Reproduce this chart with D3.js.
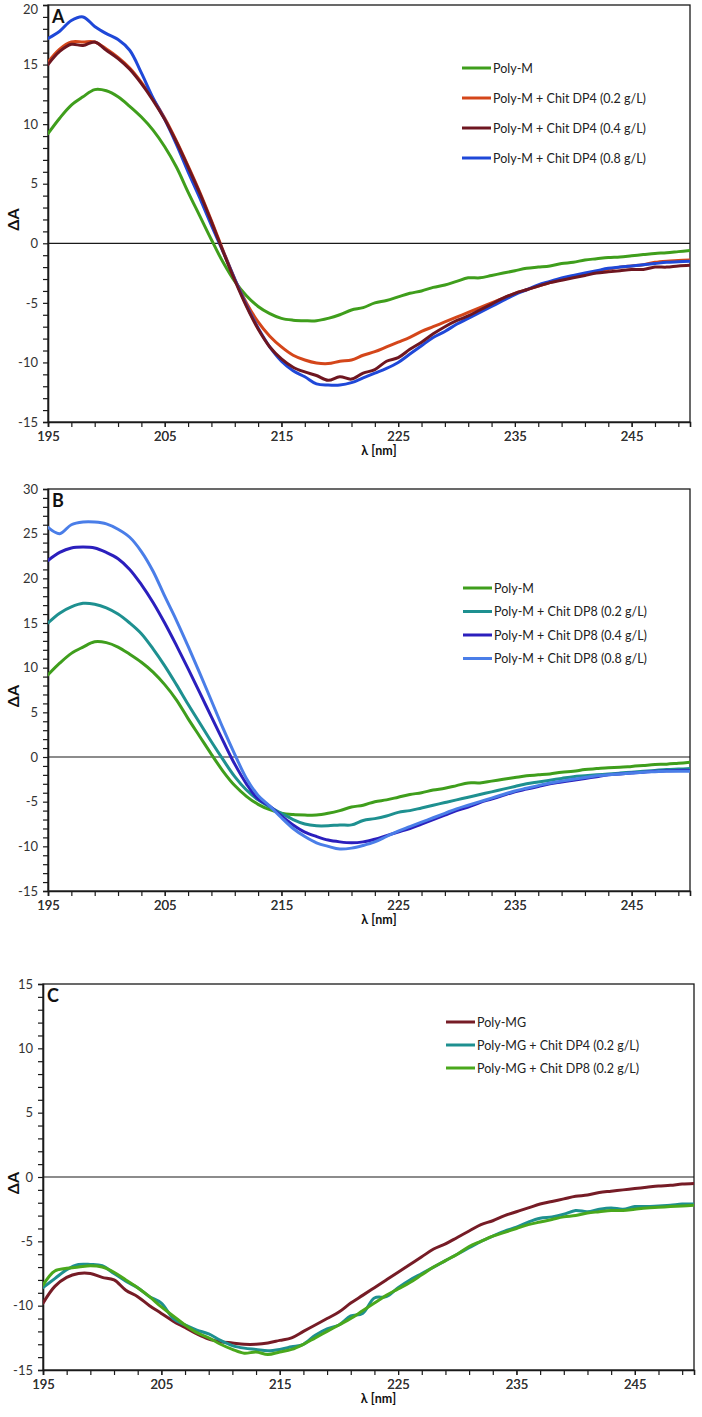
<!DOCTYPE html>
<html>
<head>
<meta charset="utf-8">
<script src="https://cdn.jsdelivr.net/npm/d3@7"></script>
<style>
  html, body { margin: 0; padding: 0; background: #fff; }
  svg { display: block; }
  text { font-family: Lato, "Open Sans", "Liberation Sans", sans-serif; }
</style>
</head>
<body>
<svg id="chart" width="702" height="1417"></svg>
<script>
// ---------- DATA ----------
const wavelengths = [195,196,197,198,199,200,201,202,203,204,205,206,207,208,209,210,211,212,213,214,215,216,217,218,219,220,221,222,223,224,225,226,227,228,229,230,231,232,233,234,235,236,237,238,239,240,241,242,243,244,245,246,247,248,249,250];

const xTickLabels = [195, 205, 215, 225, 235, 245];

// Panel A
const polyM = [9.2,10.5,11.6,12.3,12.9,12.8,12.3,11.5,10.6,9.5, 8.1,6.4,4.3,2.3,0.3,-1.6,-3.2,-4.4,-5.3,-5.9, -6.3,-6.45,-6.5,-6.5,-6.3,-6.0,-5.6,-5.4,-5.0,-4.8, -4.5,-4.2,-4.0,-3.7,-3.5,-3.2,-2.9,-2.9,-2.7,-2.5, -2.3,-2.1,-2.0,-1.9,-1.7,-1.6,-1.4,-1.3,-1.2,-1.15, -1.05,-0.95,-0.85,-0.8,-0.7,-0.6];
const polyM_DP4_02 = [15.2,16.3,16.9,16.9,16.9,16.3,15.6,14.7,13.5,12.1, 10.5,8.6,6.5,4.3,1.9,-0.6,-3.0,-5.0,-6.6,-7.8, -8.7,-9.4,-9.8,-10.05,-10.1,-9.9,-9.8,-9.4,-9.1,-8.7, -8.3,-7.9,-7.4,-7.0,-6.6,-6.2,-5.8,-5.4,-5.0,-4.6, -4.2,-3.9,-3.6,-3.3,-3.0,-2.8,-2.6,-2.4,-2.2,-2.0, -1.9,-1.8,-1.6,-1.5,-1.45,-1.4];
const polyM_DP4_04 = [15.0,16.1,16.7,16.6,16.9,16.2,15.5,14.6,13.4,12.0, 10.4,8.5,6.4,4.2,1.8,-0.7,-3.1,-5.3,-7.2,-8.7, -9.7,-10.4,-10.8,-11.1,-11.5,-11.2,-11.4,-10.9,-10.6,-9.9, -9.6,-8.9,-8.3,-7.6,-7.0,-6.5,-6.1,-5.6,-5.1,-4.6, -4.2,-3.9,-3.6,-3.3,-3.1,-2.9,-2.7,-2.5,-2.4,-2.3, -2.2,-2.2,-2.0,-2.0,-1.9,-1.85];
const polyM_DP4_08 = [17.2,17.8,18.7,19.0,18.2,17.6,17.1,16.2,14.3,12.2, 10.4,8.3,6.0,3.8,1.5,-0.7,-3.0,-5.2,-7.1,-8.7, -9.9,-10.7,-11.2,-11.8,-11.9,-11.9,-11.7,-11.3,-10.9,-10.5, -10.0,-9.3,-8.6,-7.9,-7.4,-6.8,-6.3,-5.8,-5.3,-4.8, -4.3,-3.9,-3.5,-3.2,-2.9,-2.7,-2.5,-2.3,-2.1,-2.0, -1.9,-1.8,-1.7,-1.6,-1.55,-1.5];

// Panel B
const polyM_DP8_02 = [15.0,16.1,16.8,17.2,17.1,16.7,16.0,15.0,13.8,12.1, 10.2,8.1,5.9,3.8,1.7,-0.3,-2.2,-3.7,-4.8,-5.6, -6.3,-7.0,-7.5,-7.7,-7.7,-7.6,-7.6,-7.1,-6.9,-6.6, -6.2,-6.0,-5.7,-5.4,-5.1,-4.8,-4.5,-4.2,-3.9,-3.6, -3.3,-3.0,-2.8,-2.6,-2.4,-2.2,-2.1,-2.0,-1.9,-1.8, -1.7,-1.6,-1.5,-1.4,-1.35,-1.3];
const polyM_DP8_04 = [22.0,22.9,23.4,23.5,23.4,22.9,22.2,21.0,19.3,17.3, 15.0,12.5,9.9,7.2,4.5,1.8,-0.8,-3.0,-4.7,-5.5, -6.6,-7.6,-8.4,-8.9,-9.3,-9.5,-9.6,-9.5,-9.2,-8.8, -8.4,-8.0,-7.5,-7.0,-6.5,-6.0,-5.6,-5.1,-4.7,-4.3, -3.9,-3.6,-3.3,-3.0,-2.8,-2.6,-2.4,-2.2,-2.0,-1.9, -1.8,-1.7,-1.6,-1.55,-1.5,-1.5];
const polyM_DP8_08 = [25.7,25.0,26.0,26.3,26.3,26.1,25.5,24.6,23.0,20.8, 18.0,15.3,12.4,9.4,6.3,3.2,0.3,-2.4,-4.3,-5.5, -6.8,-8.0,-8.9,-9.6,-10.0,-10.3,-10.2,-9.9,-9.5,-8.9, -8.3,-7.8,-7.3,-6.8,-6.3,-5.8,-5.4,-5.0,-4.6,-4.2, -3.8,-3.5,-3.2,-2.9,-2.7,-2.5,-2.3,-2.1,-2.0,-1.9, -1.8,-1.7,-1.65,-1.6,-1.6,-1.6];

// Panel C
const polyMG = [-9.8,-8.5,-7.8,-7.5,-7.5,-7.8,-8.0,-8.8,-9.3,-10.0, -10.6,-11.2,-11.7,-12.2,-12.6,-12.8,-12.9,-13.0,-13.0,-12.9, -12.7,-12.5,-12.0,-11.5,-11.0,-10.5,-9.8,-9.2,-8.6,-8.0, -7.4,-6.8,-6.2,-5.6,-5.2,-4.7,-4.2,-3.7,-3.4,-3.0, -2.7,-2.4,-2.1,-1.9,-1.7,-1.5,-1.4,-1.2,-1.1,-1.0, -0.9,-0.8,-0.7,-0.65,-0.55,-0.5];
const polyMG_DP4_02 = [-8.6,-7.9,-7.2,-6.8,-6.8,-6.9,-7.5,-8.1,-8.6,-9.3, -9.8,-11.0,-11.5,-11.9,-12.2,-12.7,-13.1,-13.3,-13.4,-13.5, -13.4,-13.2,-13.0,-12.3,-11.8,-11.5,-10.8,-10.6,-9.4,-9.3, -8.6,-8.0,-7.5,-7.0,-6.5,-6.0,-5.5,-5.0,-4.6,-4.2, -3.9,-3.5,-3.2,-3.1,-2.9,-2.6,-2.7,-2.5,-2.4,-2.5, -2.3,-2.3,-2.25,-2.2,-2.1,-2.1];
const polyMG_DP8_02 = [-8.4,-7.3,-7.1,-7.0,-6.9,-7.0,-7.4,-8.0,-8.6,-9.3, -10.1,-10.8,-11.5,-12.1,-12.5,-13.0,-13.4,-13.7,-13.6,-13.8, -13.6,-13.4,-13.0,-12.5,-12.0,-11.5,-11.0,-10.4,-9.8,-9.2, -8.7,-8.2,-7.6,-7.0,-6.5,-6.0,-5.4,-5.0,-4.6,-4.3, -4.0,-3.7,-3.5,-3.3,-3.1,-3.0,-2.8,-2.7,-2.6,-2.6, -2.5,-2.4,-2.35,-2.3,-2.25,-2.2];

const yTicksA = [-15,-10,-5,0,5,10,15,20];
const yTicksB = [-15,-10,-5,0,5,10,15,20,25,30];
const yTicksC = [-15,-10,-5,0,5,10,15];

// ---------- LAYOUT ----------
const panels = [
  { letter: "A", x0: 48, x1: 690, yTop: 5, yBot: 422, yTicks: yTicksA,
    legend: { x: 462, y: 68, dy: 30 },
    series: [
      { name: "Poly-M", values: polyM, color: "#3f9e1c" },
      { name: "Poly-M + Chit DP4 (0.2 g/L)", values: polyM_DP4_02, color: "#d4461a" },
      { name: "Poly-M + Chit DP4 (0.4 g/L)", values: polyM_DP4_04, color: "#6e1620" },
      { name: "Poly-M + Chit DP4 (0.8 g/L)", values: polyM_DP4_08, color: "#1f48d8" }
    ] },
  { letter: "B", x0: 48, x1: 690, yTop: 489, yBot: 891, yTicks: yTicksB,
    legend: { x: 463, y: 588, dy: 23.5 },
    series: [
      { name: "Poly-M", values: polyM, color: "#3f9e1c" },
      { name: "Poly-M + Chit DP8 (0.2 g/L)", values: polyM_DP8_02, color: "#1e9090" },
      { name: "Poly-M + Chit DP8 (0.4 g/L)", values: polyM_DP8_04, color: "#2b1fbd" },
      { name: "Poly-M + Chit DP8 (0.8 g/L)", values: polyM_DP8_08, color: "#4a7ee8" }
    ] },
  { letter: "C", x0: 43, x1: 694, yTop: 984, yBot: 1370, yTicks: yTicksC,
    legend: { x: 446, y: 1022, dy: 23 },
    series: [
      { name: "Poly-MG", values: polyMG, color: "#761c26" },
      { name: "Poly-MG + Chit DP4 (0.2 g/L)", values: polyMG_DP4_02, color: "#1e9090" },
      { name: "Poly-MG + Chit DP8 (0.2 g/L)", values: polyMG_DP8_02, color: "#4aa81c" }
    ] }
];

const svg = d3.select("#chart");
const axisColor = "#1a1a1a";
const labelColor = "#333";

panels.forEach(p => {
  const yd = p.yTicks;
  const yMax = yd[yd.length - 1];
  const x = d3.scaleLinear().domain([195, 250]).range([p.x0, p.x1]);
  const y = d3.scaleLinear().domain([yd[0], yMax]).range([p.yBot, p.yTop]);
  const g = svg.append("g");

  // Frame
  g.append("rect")
    .attr("x", p.x0).attr("y", p.yTop)
    .attr("width", p.x1 - p.x0).attr("height", p.yBot - p.yTop)
    .attr("fill", "none").attr("stroke", axisColor).attr("stroke-width", 1.3);

  // y axis: major + minor ticks
  const yAxis = d3.axisLeft(y).tickValues(d3.range(yd[0], yMax + 0.001, 1))
    .tickSize(5).tickFormat(d => (yd.includes(d) ? d : ""));
  const ya = g.append("g").attr("transform", `translate(${p.x0},0)`).call(yAxis);
  ya.select(".domain").attr("stroke", axisColor).attr("stroke-width", 1.6);
  ya.selectAll(".tick line").attr("stroke", axisColor).attr("stroke-width", 1.2);
  ya.selectAll(".tick text").attr("font-size", 13).attr("fill", labelColor)
    .attr("x", -10)
    .attr("dy", d => (y(d) < 10 ? "0.64em" : "0.32em"));

  // x axis: ticks every 2 nm, labels every 10
  const xTickVals = d3.range(195, 250.001, 2);
  const xAxis = d3.axisBottom(x).tickValues(xTickVals.concat(xTickLabels))
    .tickSize(5).tickFormat(d => (xTickLabels.includes(d) ? d : ""));
  const xa = g.append("g").attr("transform", `translate(0,${p.yBot})`).call(xAxis);
  xa.select(".domain").attr("stroke", axisColor).attr("stroke-width", 1.6);
  xa.selectAll(".tick line").attr("stroke", axisColor).attr("stroke-width", 1.2);
  xa.selectAll(".tick text").attr("font-size", 13).attr("fill", labelColor).attr("y", 10);

  // zero line
  g.append("line")
    .attr("x1", p.x0).attr("x2", p.x1)
    .attr("y1", y(0)).attr("y2", y(0))
    .attr("stroke", axisColor).attr("stroke-width", 1.2);

  // axis titles
  g.append("text")
    .attr("transform", `translate(19,${(p.yTop + p.yBot) / 2 + 6}) rotate(-90)`)
    .attr("text-anchor", "middle").attr("font-size", 16).attr("font-weight", "bold")
    .attr("fill", "#111").text("ΔA");
  g.append("text")
    .attr("x", (p.x0 + p.x1) / 2 + 10).attr("y", p.yBot + 33)
    .attr("text-anchor", "middle").attr("font-size", 12.5).attr("font-weight", "bold")
    .attr("fill", "#111").text("λ [nm]");

  // panel letter
  g.append("text")
    .attr("x", p.x0 + 4).attr("y", p.yTop + 18)
    .attr("font-size", 18).attr("font-weight", "bold").attr("fill", "#111")
    .text(p.letter);

  // curves
  const line = d3.line()
    .x((d, i) => x(wavelengths[i]))
    .y(d => y(d))
    .curve(d3.curveCatmullRom.alpha(0.5));
  const clipId = "clip" + p.letter;
  g.append("clipPath").attr("id", clipId).append("rect")
    .attr("x", p.x0).attr("y", p.yTop).attr("width", p.x1 - p.x0).attr("height", p.yBot - p.yTop);
  const order = p.letter === "A" ? [0, 1, 3, 2] : d3.range(p.series.length);
  order.forEach(k => {
    const s = p.series[k];
    g.append("path")
      .datum(s.values)
      .attr("clip-path", `url(#${clipId})`)
      .attr("d", line)
      .attr("fill", "none")
      .attr("stroke", s.color)
      .attr("stroke-width", 3)
      .attr("stroke-linejoin", "round")
      .attr("stroke-linecap", "round");
  });

  // legend
  const lg = g.append("g");
  p.series.forEach((s, i) => {
    const ly = p.legend.y + i * p.legend.dy;
    lg.append("line")
      .attr("x1", p.legend.x).attr("x2", p.legend.x + 29)
      .attr("y1", ly).attr("y2", ly)
      .attr("stroke", s.color).attr("stroke-width", 3);
    lg.append("text")
      .attr("x", p.legend.x + 31).attr("y", ly + 4.5)
      .attr("font-size", 12.5).attr("fill", "#222")
      .text(s.name);
  });
});
</script>
</body>
</html>
